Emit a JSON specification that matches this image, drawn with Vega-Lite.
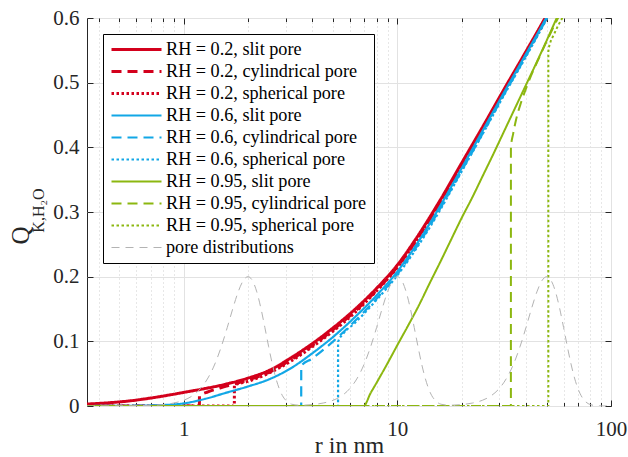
{
"$schema": "https://vega.github.io/schema/vega-lite/v6.json",
"width": 524, "height": 388,
"autosize": {"type": "none"},
"padding": {"left": 87, "top": 18, "right": 17, "bottom": 51},
"background": "white",
"config": {"font": "Liberation Serif", "view": {"stroke": "#262626", "strokeWidth": 1},
  "legend": {"title": null, "labelFont": "Liberation Serif", "labelFontSize": 18.2, "labelColor": "black", "symbolType": "stroke", "symbolSize": 2500, "clipHeight": 17, "rowPadding": 3, "labelOffset": 3, "labelLimit": 400, "strokeColor": "black", "fillColor": "white", "padding": 7, "cornerRadius": 0, "orient": "top-left", "offset": 16}},
"data": {"values": [
{"s":"RH = 0.2, slit pore","r":0.353,"q":0.003},{"s":"RH = 0.2, slit pore","r":0.447,"q":0.005},{"s":"RH = 0.2, slit pore","r":0.562,"q":0.008},{"s":"RH = 0.2, slit pore","r":0.708,"q":0.0125},{"s":"RH = 0.2, slit pore","r":0.891,"q":0.018},{"s":"RH = 0.2, slit pore","r":1.0,"q":0.021},{"s":"RH = 0.2, slit pore","r":1.259,"q":0.027},{"s":"RH = 0.2, slit pore","r":1.585,"q":0.034},{"s":"RH = 0.2, slit pore","r":1.995,"q":0.043},{"s":"RH = 0.2, slit pore","r":2.512,"q":0.055},{"s":"RH = 0.2, slit pore","r":3.162,"q":0.074},{"s":"RH = 0.2, slit pore","r":3.981,"q":0.096},{"s":"RH = 0.2, slit pore","r":5.012,"q":0.121},{"s":"RH = 0.2, slit pore","r":6.31,"q":0.149},{"s":"RH = 0.2, slit pore","r":7.943,"q":0.181},{"s":"RH = 0.2, slit pore","r":10,"q":0.218},{"s":"RH = 0.2, slit pore","r":12.59,"q":0.265},{"s":"RH = 0.2, slit pore","r":15.85,"q":0.318},{"s":"RH = 0.2, slit pore","r":19.95,"q":0.375},{"s":"RH = 0.2, slit pore","r":25.12,"q":0.432},{"s":"RH = 0.2, slit pore","r":31.62,"q":0.49},{"s":"RH = 0.2, slit pore","r":39.81,"q":0.547},{"s":"RH = 0.2, slit pore","r":50.12,"q":0.605},{"s":"RH = 0.2, slit pore","r":52.48,"q":0.617},
{"s":"RH = 0.2, cylindrical pore","r":0.353,"q":0},{"s":"RH = 0.2, cylindrical pore","r":1.185,"q":0},{"s":"RH = 0.2, cylindrical pore","r":1.186,"q":0.0155},{"s":"RH = 0.2, cylindrical pore","r":1.3,"q":0.022},{"s":"RH = 0.2, cylindrical pore","r":1.45,"q":0.027},{"s":"RH = 0.2, cylindrical pore","r":1.585,"q":0.031},{"s":"RH = 0.2, cylindrical pore","r":1.995,"q":0.04},{"s":"RH = 0.2, cylindrical pore","r":2.512,"q":0.052},{"s":"RH = 0.2, cylindrical pore","r":3.162,"q":0.071},{"s":"RH = 0.2, cylindrical pore","r":3.981,"q":0.093},{"s":"RH = 0.2, cylindrical pore","r":5.012,"q":0.118},{"s":"RH = 0.2, cylindrical pore","r":6.31,"q":0.146},{"s":"RH = 0.2, cylindrical pore","r":7.943,"q":0.178},{"s":"RH = 0.2, cylindrical pore","r":10,"q":0.215},{"s":"RH = 0.2, cylindrical pore","r":12.59,"q":0.262},{"s":"RH = 0.2, cylindrical pore","r":15.85,"q":0.315},{"s":"RH = 0.2, cylindrical pore","r":19.95,"q":0.372},{"s":"RH = 0.2, cylindrical pore","r":25.12,"q":0.429},{"s":"RH = 0.2, cylindrical pore","r":31.62,"q":0.487},{"s":"RH = 0.2, cylindrical pore","r":39.81,"q":0.544},{"s":"RH = 0.2, cylindrical pore","r":50.12,"q":0.602},{"s":"RH = 0.2, cylindrical pore","r":52.48,"q":0.614},
{"s":"RH = 0.2, spherical pore","r":0.353,"q":0},{"s":"RH = 0.2, spherical pore","r":1.727,"q":0},{"s":"RH = 0.2, spherical pore","r":1.728,"q":0.032},{"s":"RH = 0.2, spherical pore","r":1.995,"q":0.038},{"s":"RH = 0.2, spherical pore","r":2.512,"q":0.051},{"s":"RH = 0.2, spherical pore","r":3.162,"q":0.069},{"s":"RH = 0.2, spherical pore","r":3.981,"q":0.091},{"s":"RH = 0.2, spherical pore","r":5.012,"q":0.116},{"s":"RH = 0.2, spherical pore","r":6.31,"q":0.144},{"s":"RH = 0.2, spherical pore","r":7.943,"q":0.177},{"s":"RH = 0.2, spherical pore","r":10,"q":0.214},{"s":"RH = 0.2, spherical pore","r":12.59,"q":0.261},{"s":"RH = 0.2, spherical pore","r":15.85,"q":0.314},{"s":"RH = 0.2, spherical pore","r":19.95,"q":0.371},{"s":"RH = 0.2, spherical pore","r":25.12,"q":0.428},{"s":"RH = 0.2, spherical pore","r":31.62,"q":0.486},{"s":"RH = 0.2, spherical pore","r":39.81,"q":0.543},{"s":"RH = 0.2, spherical pore","r":50.12,"q":0.601},{"s":"RH = 0.2, spherical pore","r":52.48,"q":0.613},
{"s":"RH = 0.6, slit pore","r":0.353,"q":0},{"s":"RH = 0.6, slit pore","r":0.6,"q":0.0005},{"s":"RH = 0.6, slit pore","r":0.8,"q":0.0015},{"s":"RH = 0.6, slit pore","r":1.0,"q":0.004},{"s":"RH = 0.6, slit pore","r":1.259,"q":0.011},{"s":"RH = 0.6, slit pore","r":1.585,"q":0.0206},{"s":"RH = 0.6, slit pore","r":1.995,"q":0.0301},{"s":"RH = 0.6, slit pore","r":2.512,"q":0.0413},{"s":"RH = 0.6, slit pore","r":3.162,"q":0.058},{"s":"RH = 0.6, slit pore","r":3.981,"q":0.081},{"s":"RH = 0.6, slit pore","r":5.012,"q":0.107},{"s":"RH = 0.6, slit pore","r":6.31,"q":0.137},{"s":"RH = 0.6, slit pore","r":7.943,"q":0.17},{"s":"RH = 0.6, slit pore","r":10,"q":0.208},{"s":"RH = 0.6, slit pore","r":12.59,"q":0.255},{"s":"RH = 0.6, slit pore","r":15.85,"q":0.309},{"s":"RH = 0.6, slit pore","r":19.95,"q":0.367},{"s":"RH = 0.6, slit pore","r":25.12,"q":0.426},{"s":"RH = 0.6, slit pore","r":31.62,"q":0.485},{"s":"RH = 0.6, slit pore","r":39.81,"q":0.543},{"s":"RH = 0.6, slit pore","r":50.12,"q":0.602},{"s":"RH = 0.6, slit pore","r":53,"q":0.617},
{"s":"RH = 0.6, cylindrical pore","r":0.353,"q":0},{"s":"RH = 0.6, cylindrical pore","r":3.55,"q":0},{"s":"RH = 0.6, cylindrical pore","r":3.551,"q":0.062},{"s":"RH = 0.6, cylindrical pore","r":3.981,"q":0.073},{"s":"RH = 0.6, cylindrical pore","r":5.012,"q":0.1},{"s":"RH = 0.6, cylindrical pore","r":6.31,"q":0.131},{"s":"RH = 0.6, cylindrical pore","r":7.943,"q":0.165},{"s":"RH = 0.6, cylindrical pore","r":10,"q":0.204},{"s":"RH = 0.6, cylindrical pore","r":12.59,"q":0.251},{"s":"RH = 0.6, cylindrical pore","r":15.85,"q":0.305},{"s":"RH = 0.6, cylindrical pore","r":19.95,"q":0.363},{"s":"RH = 0.6, cylindrical pore","r":25.12,"q":0.422},{"s":"RH = 0.6, cylindrical pore","r":31.62,"q":0.482},{"s":"RH = 0.6, cylindrical pore","r":39.81,"q":0.54},{"s":"RH = 0.6, cylindrical pore","r":50.12,"q":0.6},{"s":"RH = 0.6, cylindrical pore","r":53,"q":0.615},
{"s":"RH = 0.6, spherical pore","r":0.353,"q":0},{"s":"RH = 0.6, spherical pore","r":5.28,"q":0},{"s":"RH = 0.6, spherical pore","r":5.281,"q":0.099},{"s":"RH = 0.6, spherical pore","r":5.56,"q":0.111},{"s":"RH = 0.6, spherical pore","r":6.31,"q":0.128},{"s":"RH = 0.6, spherical pore","r":7.943,"q":0.163},{"s":"RH = 0.6, spherical pore","r":10,"q":0.202},{"s":"RH = 0.6, spherical pore","r":12.59,"q":0.249},{"s":"RH = 0.6, spherical pore","r":15.85,"q":0.303},{"s":"RH = 0.6, spherical pore","r":19.95,"q":0.362},{"s":"RH = 0.6, spherical pore","r":25.12,"q":0.421},{"s":"RH = 0.6, spherical pore","r":31.62,"q":0.481},{"s":"RH = 0.6, spherical pore","r":39.81,"q":0.539},{"s":"RH = 0.6, spherical pore","r":50.12,"q":0.599},{"s":"RH = 0.6, spherical pore","r":53,"q":0.614},
{"s":"RH = 0.95, slit pore","r":0.353,"q":0},{"s":"RH = 0.95, slit pore","r":6.95,"q":0},{"s":"RH = 0.95, slit pore","r":7.5,"q":0.02},{"s":"RH = 0.95, slit pore","r":8,"q":0.036},{"s":"RH = 0.95, slit pore","r":9,"q":0.066},{"s":"RH = 0.95, slit pore","r":10,"q":0.094},{"s":"RH = 0.95, slit pore","r":11.22,"q":0.124},{"s":"RH = 0.95, slit pore","r":12.59,"q":0.155},{"s":"RH = 0.95, slit pore","r":14.13,"q":0.189},{"s":"RH = 0.95, slit pore","r":15.85,"q":0.222},{"s":"RH = 0.95, slit pore","r":17.78,"q":0.256},{"s":"RH = 0.95, slit pore","r":19.95,"q":0.29},{"s":"RH = 0.95, slit pore","r":22.39,"q":0.322},{"s":"RH = 0.95, slit pore","r":25.12,"q":0.356},{"s":"RH = 0.95, slit pore","r":28.18,"q":0.39},{"s":"RH = 0.95, slit pore","r":31.62,"q":0.425},{"s":"RH = 0.95, slit pore","r":35.48,"q":0.46},{"s":"RH = 0.95, slit pore","r":39.81,"q":0.495},{"s":"RH = 0.95, slit pore","r":44.67,"q":0.53},{"s":"RH = 0.95, slit pore","r":50.12,"q":0.566},{"s":"RH = 0.95, slit pore","r":56.23,"q":0.603},{"s":"RH = 0.95, slit pore","r":58,"q":0.613},
{"s":"RH = 0.95, cylindrical pore","r":0.353,"q":0},{"s":"RH = 0.95, cylindrical pore","r":34.0,"q":0},{"s":"RH = 0.95, cylindrical pore","r":34.01,"q":0.4},{"s":"RH = 0.95, cylindrical pore","r":34.8,"q":0.42},{"s":"RH = 0.95, cylindrical pore","r":35.9,"q":0.442},{"s":"RH = 0.95, cylindrical pore","r":38,"q":0.47},{"s":"RH = 0.95, cylindrical pore","r":41,"q":0.5},{"s":"RH = 0.95, cylindrical pore","r":46.3,"q":0.54},{"s":"RH = 0.95, cylindrical pore","r":51,"q":0.57},{"s":"RH = 0.95, cylindrical pore","r":56.5,"q":0.6},{"s":"RH = 0.95, cylindrical pore","r":58.5,"q":0.61},
{"s":"RH = 0.95, spherical pore","r":0.353,"q":0},{"s":"RH = 0.95, spherical pore","r":50.9,"q":0},{"s":"RH = 0.95, spherical pore","r":50.91,"q":0.548},{"s":"RH = 0.95, spherical pore","r":52,"q":0.562},{"s":"RH = 0.95, spherical pore","r":54,"q":0.574},{"s":"RH = 0.95, spherical pore","r":56.5,"q":0.588},{"s":"RH = 0.95, spherical pore","r":59.2,"q":0.6},{"s":"RH = 0.95, spherical pore","r":61,"q":0.607},
{"s":"pore distributions","r":0.353,"q":0},{"s":"pore distributions","r":0.5,"q":0.0002},{"s":"pore distributions","r":0.7,"q":0.001},{"s":"pore distributions","r":0.8,"q":0.0022},{"s":"pore distributions","r":0.9,"q":0.0046},{"s":"pore distributions","r":1.0,"q":0.0088},{"s":"pore distributions","r":1.1,"q":0.0159},{"s":"pore distributions","r":1.2,"q":0.0271},{"s":"pore distributions","r":1.3,"q":0.0433},{"s":"pore distributions","r":1.4,"q":0.0649},{"s":"pore distributions","r":1.5,"q":0.0916},{"s":"pore distributions","r":1.6,"q":0.1213},{"s":"pore distributions","r":1.7,"q":0.151},{"s":"pore distributions","r":1.8,"q":0.1765},{"s":"pore distributions","r":1.9,"q":0.1938},{"s":"pore distributions","r":2.0,"q":0.2},{"s":"pore distributions","r":2.1,"q":0.1938},{"s":"pore distributions","r":2.2,"q":0.1765},{"s":"pore distributions","r":2.3,"q":0.151},{"s":"pore distributions","r":2.4,"q":0.1213},{"s":"pore distributions","r":2.5,"q":0.0916},{"s":"pore distributions","r":2.6,"q":0.0649},{"s":"pore distributions","r":2.7,"q":0.0433},{"s":"pore distributions","r":2.8,"q":0.0271},{"s":"pore distributions","r":2.9,"q":0.0159},{"s":"pore distributions","r":3.0,"q":0.0092},{"s":"pore distributions","r":3.2,"q":0.0028},{"s":"pore distributions","r":3.5,"q":0.0012},{"s":"pore distributions","r":4,"q":0.0022},{"s":"pore distributions","r":4.5,"q":0.0046},{"s":"pore distributions","r":5,"q":0.0088},{"s":"pore distributions","r":5.5,"q":0.0159},{"s":"pore distributions","r":6,"q":0.0271},{"s":"pore distributions","r":6.5,"q":0.0433},{"s":"pore distributions","r":7,"q":0.0649},{"s":"pore distributions","r":7.5,"q":0.0916},{"s":"pore distributions","r":8,"q":0.1213},{"s":"pore distributions","r":8.5,"q":0.151},{"s":"pore distributions","r":9,"q":0.1765},{"s":"pore distributions","r":9.5,"q":0.1938},{"s":"pore distributions","r":10,"q":0.2},{"s":"pore distributions","r":10.5,"q":0.1938},{"s":"pore distributions","r":11,"q":0.1765},{"s":"pore distributions","r":11.5,"q":0.151},{"s":"pore distributions","r":12,"q":0.1213},{"s":"pore distributions","r":12.5,"q":0.0916},{"s":"pore distributions","r":13,"q":0.0649},{"s":"pore distributions","r":13.5,"q":0.0433},{"s":"pore distributions","r":14,"q":0.0271},{"s":"pore distributions","r":14.5,"q":0.0159},{"s":"pore distributions","r":15,"q":0.0092},{"s":"pore distributions","r":16,"q":0.0028},{"s":"pore distributions","r":17.5,"q":0.0012},{"s":"pore distributions","r":20,"q":0.0022},{"s":"pore distributions","r":22.5,"q":0.0046},{"s":"pore distributions","r":25,"q":0.0088},{"s":"pore distributions","r":27.5,"q":0.0159},{"s":"pore distributions","r":30,"q":0.0271},{"s":"pore distributions","r":32.5,"q":0.0433},{"s":"pore distributions","r":35,"q":0.0649},{"s":"pore distributions","r":37.5,"q":0.0916},{"s":"pore distributions","r":40,"q":0.1213},{"s":"pore distributions","r":42.5,"q":0.151},{"s":"pore distributions","r":45,"q":0.1765},{"s":"pore distributions","r":47.5,"q":0.1938},{"s":"pore distributions","r":50,"q":0.2},{"s":"pore distributions","r":52.5,"q":0.1938},{"s":"pore distributions","r":55,"q":0.1765},{"s":"pore distributions","r":57.5,"q":0.151},{"s":"pore distributions","r":60,"q":0.1213},{"s":"pore distributions","r":62.5,"q":0.0916},{"s":"pore distributions","r":65,"q":0.0649},{"s":"pore distributions","r":67.5,"q":0.0433},{"s":"pore distributions","r":70,"q":0.0271},{"s":"pore distributions","r":72.5,"q":0.0159},{"s":"pore distributions","r":75,"q":0.0088},{"s":"pore distributions","r":80,"q":0.0022},{"s":"pore distributions","r":87.5,"q":0.0002},{"s":"pore distributions","r":100,"q":0}
]},
"layer": [
 {"mark": {"type": "line", "clip": true, "interpolate": "monotone"},
  "encoding": {
   "x": {"field": "r", "type": "quantitative", "scale": {"type": "log", "domain": [0.353, 100], "nice": false},
     "axis": {"orient": "bottom", "values": [0.4,0.5,0.6,0.7,0.8,0.9,1,2,3,4,5,6,7,8,9,10,20,30,40,50,60,70,80,90,100],
       "labelExpr": "datum.value == 1 ? '1' : datum.value == 10 ? '10' : datum.value == 100 ? '100' : ''",
       "labelFontSize": 21, "labelColor": "#262626", "labelPadding": 18, "labelFlush": false, "labelOverlap": false,
       "tickSize": {"condition": {"test": "datum.value == 1 || datum.value == 10 || datum.value == 100", "value": -6}, "value": -3.5},
       "tickColor": "#262626", "domain": false, "grid": true,
       "gridColor": {"condition": {"test": "datum.value == 1 || datum.value == 10 || datum.value == 100", "value": "#e2e2e2"}, "value": "#cfcfcf"},
       "gridDash": {"condition": {"test": "datum.value == 1 || datum.value == 10 || datum.value == 100", "value": []}, "value": [1, 3]},
       "title": "r in nm", "titleFontSize": 24, "titleFontWeight": "normal", "titleColor": "#262626",
       "titleY": 46, "titleBaseline": "alphabetic"}},
   "y": {"field": "q", "type": "quantitative", "scale": {"domain": [0, 0.6], "nice": false},
     "axis": {"orient": "left", "values": [0,0.1,0.2,0.3,0.4,0.5,0.6],
       "labelExpr": "datum.value == 0 ? '0' : format(datum.value, '.1f')",
       "labelFontSize": 21, "labelColor": "#262626", "labelPadding": 14, "tickSize": -6, "tickColor": "#262626",
       "domain": false, "grid": true, "gridColor": "#e2e2e2",
       "title": "Q", "titleFontSize": 25, "titleFontWeight": "normal", "titleColor": "#262626",
       "titleX": -67, "titleY": 217, "titleAngle": -90, "titleAlign": "center", "titleBaseline": "middle"}},
   "color": {"field": "s", "type": "nominal",
     "scale": {"domain": ["RH = 0.2, slit pore","RH = 0.2, cylindrical pore","RH = 0.2, spherical pore","RH = 0.6, slit pore","RH = 0.6, cylindrical pore","RH = 0.6, spherical pore","RH = 0.95, slit pore","RH = 0.95, cylindrical pore","RH = 0.95, spherical pore","pore distributions"],
       "range": ["#d3001c","#d3001c","#d3001c","#12a7e6","#12a7e6","#12a7e6","#8cb710","#8cb710","#8cb710","#b3b3b3"]}},
   "strokeDash": {"field": "s", "type": "nominal",
     "scale": {"domain": ["RH = 0.2, slit pore","RH = 0.2, cylindrical pore","RH = 0.2, spherical pore","RH = 0.6, slit pore","RH = 0.6, cylindrical pore","RH = 0.6, spherical pore","RH = 0.95, slit pore","RH = 0.95, cylindrical pore","RH = 0.95, spherical pore","pore distributions"],
       "range": [[1,0],[10,6],[2.5,2.5],[1,0],[10,6],[2.5,2.5],[1,0],[10,6],[2.5,2.5],[8,6]]}},
   "strokeWidth": {"field": "s", "type": "nominal",
     "scale": {"type": "ordinal", "domain": ["RH = 0.2, slit pore","RH = 0.2, cylindrical pore","RH = 0.2, spherical pore","RH = 0.6, slit pore","RH = 0.6, cylindrical pore","RH = 0.6, spherical pore","RH = 0.95, slit pore","RH = 0.95, cylindrical pore","RH = 0.95, spherical pore","pore distributions"],
       "range": [3,3,3,2.2,2.2,2.2,2,2,2,1]}}
  }},
 {"mark": {"type": "line", "opacity": 0},
  "encoding": {
   "x": {"field": "r", "type": "quantitative",
     "axis": {"orient": "top", "values": [0.4,0.5,0.6,0.7,0.8,0.9,1,2,3,4,5,6,7,8,9,10,20,30,40,50,60,70,80,90,100], "labels": false, "domain": false, "grid": false,
       "tickSize": {"condition": {"test": "datum.value == 1 || datum.value == 10 || datum.value == 100", "value": -6}, "value": -3.5},
       "tickColor": "#262626", "title": null}},
   "y": {"field": "q", "type": "quantitative",
     "axis": {"orient": "right", "values": [0,0.1,0.2,0.3,0.4,0.5,0.6], "labels": false, "domain": false, "grid": false, "tickSize": -6, "tickColor": "#262626",
       "title": "K,H₂O", "titleFontSize": 16, "titleFontWeight": "normal", "titleColor": "#262626",
       "titleX": -573, "titleY": 192, "titleAngle": -90, "titleAlign": "center", "titleBaseline": "middle"}},
   "detail": {"field": "s"}
  }}
],
"resolve": {"axis": {"x": "independent", "y": "independent"}}
}
